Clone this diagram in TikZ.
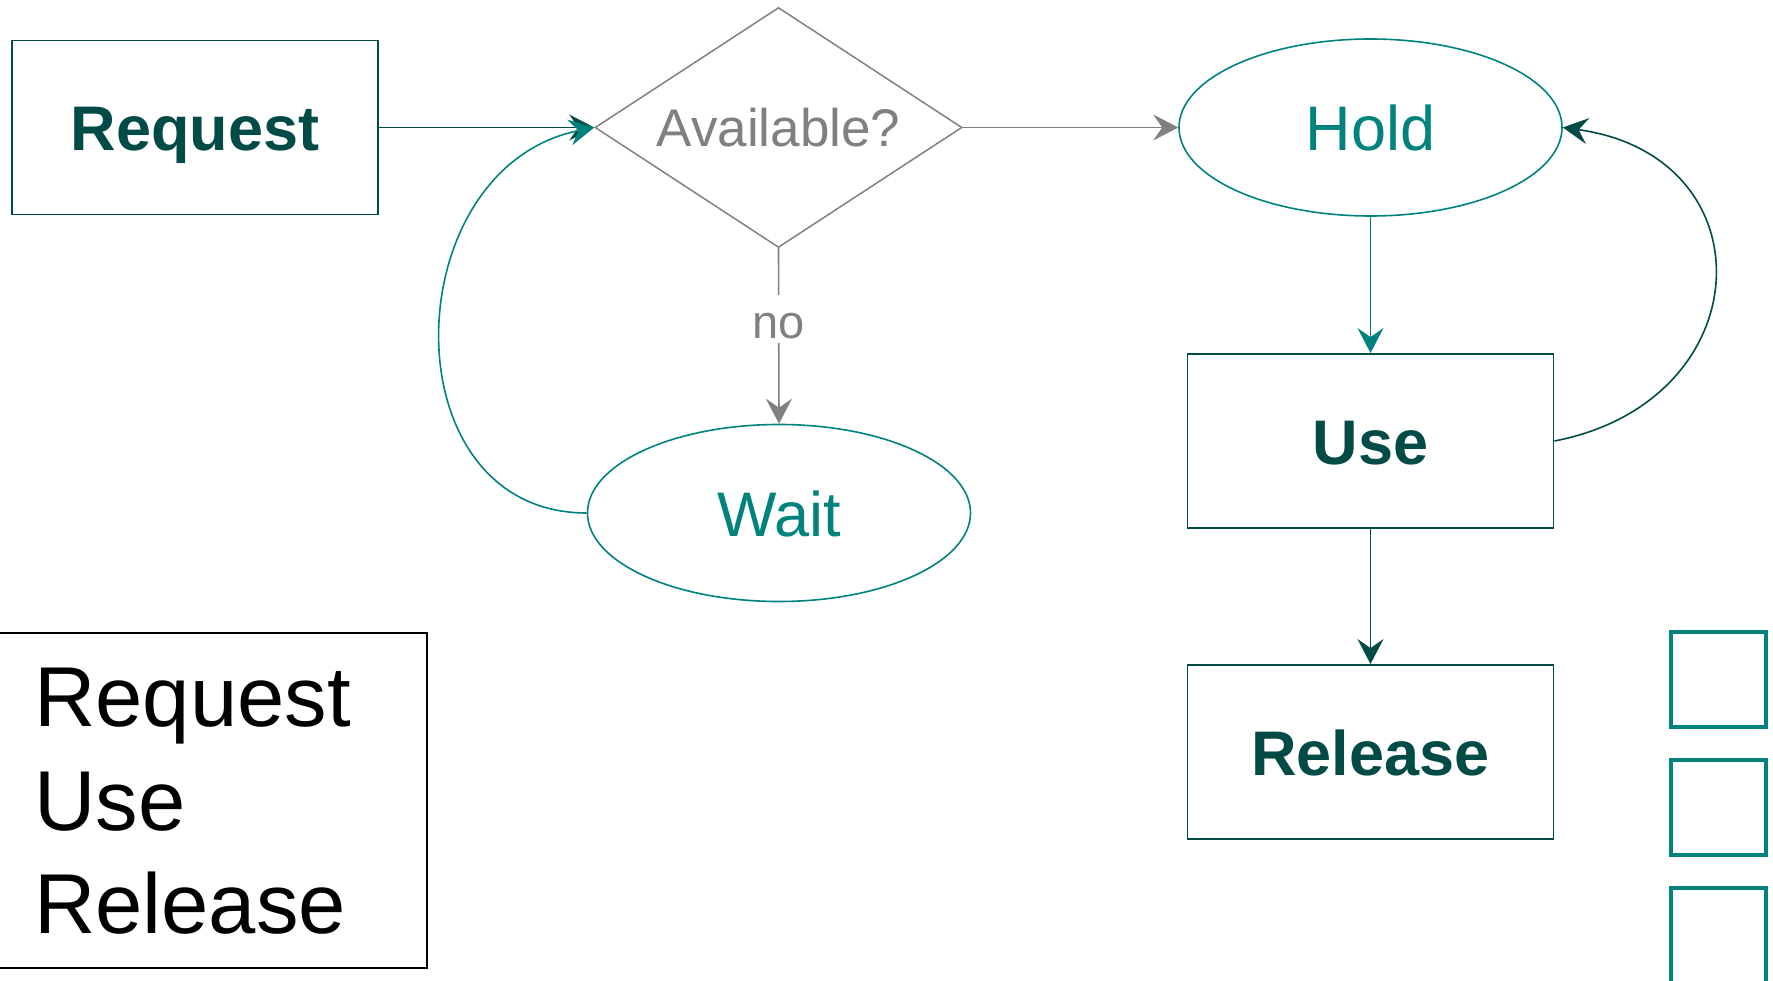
\documentclass[tikz,border=0pt]{standalone}
\usepackage{fontspec}
\setmainfont{Liberation Sans}
\usetikzlibrary{shapes.geometric,arrows.meta,calc}

\definecolor{tealmid}{RGB}{0,130,125}
\definecolor{tealdark}{RGB}{0,75,70}
\definecolor{graymid}{RGB}{128,128,128}

\tikzset{
  procbox/.style={draw=tealdark, line width=1.9pt, rectangle,
    minimum width=366pt, minimum height=174pt, inner sep=0pt,
    text=tealdark, font=\fontsize{63}{76}\selectfont\bfseries,
    text height=47pt, text depth=0pt},
  stateell/.style={draw=tealmid, line width=1.6pt, ellipse,
    minimum width=383pt, minimum height=177pt, inner sep=0pt,
    text=tealmid, font=\fontsize{63}{76}\selectfont,
    text height=47pt, text depth=0pt},
  decision/.style={draw=graymid, line width=1.5pt, diamond, aspect=1.53,
    minimum width=367pt, minimum height=240pt, inner sep=0pt,
    text=graymid, font=\fontsize{53}{64}\selectfont,
    text height=39pt, text depth=0pt},
  conn/.style={line width=1.6pt, -{Stealth[length=25pt,width=26pt,inset=9pt]}},
  nolabel/.style={fill=white, text=graymid, font=\fontsize{47}{56}\selectfont,
    inner sep=0pt, text height=43pt, text depth=5pt},
  legendframe/.style={draw=black, line width=2pt},
  legendtext/.style={inner sep=0pt, align=left, text=black,
    font=\fontsize{85}{103.5}\selectfont},
  sqbox/.style={draw=tealmid, line width=4pt, rectangle,
    minimum width=95pt, minimum height=95pt, inner sep=0pt},
}

\begin{document}
\begin{tikzpicture}[x=1pt, y=-1pt]
\useasboundingbox (0,0) rectangle (1773,981);

% main flow
\node[procbox]  (req)  at (195,127.5)   {Request};
\node[decision] (dia)  at (778.5,127.5) {Available?};
\node[stateell] (hold) at (1370.5,127.5) {Hold};
\node[stateell] (wait) at (779,513)     {Wait};
\node[procbox]  (use)  at (1370.5,441)  {Use};
\node[procbox]  (rel)  at (1370.5,752)  {Release};

% legend and side markers
\draw[legendframe] (-2,633) rectangle (427,968);
\node[legendtext, anchor=north west] (legend) at (34,668) {Request\\Use\\Release};
\node[sqbox] (sq1) at (1718.5,679.5) {};
\node[sqbox] (sq2) at (1718.5,807.5) {};
\node[sqbox] (sq3) at (1718.5,935.5) {};

% connectors
\draw[conn, tealdark] (req.east) -- (dia.west);
\draw[conn, graymid] (dia.east) -- (hold.west);
\draw[conn, graymid] (dia.south) -- node[nolabel, pos=0.404] (nolbl) {no} (wait.north);
\draw[conn, tealmid] (wait.west) .. controls +(-200,0) and +(-200,40) .. (dia.west);
\draw[conn, tealmid] (hold.south) -- (use.north);
\draw[conn, tealdark] (use.east) .. controls +(207,-40) and +(208,29) .. (hold.east);
\draw[conn, tealdark] (use.south) -- (rel.north);
\end{tikzpicture}
\end{document}
